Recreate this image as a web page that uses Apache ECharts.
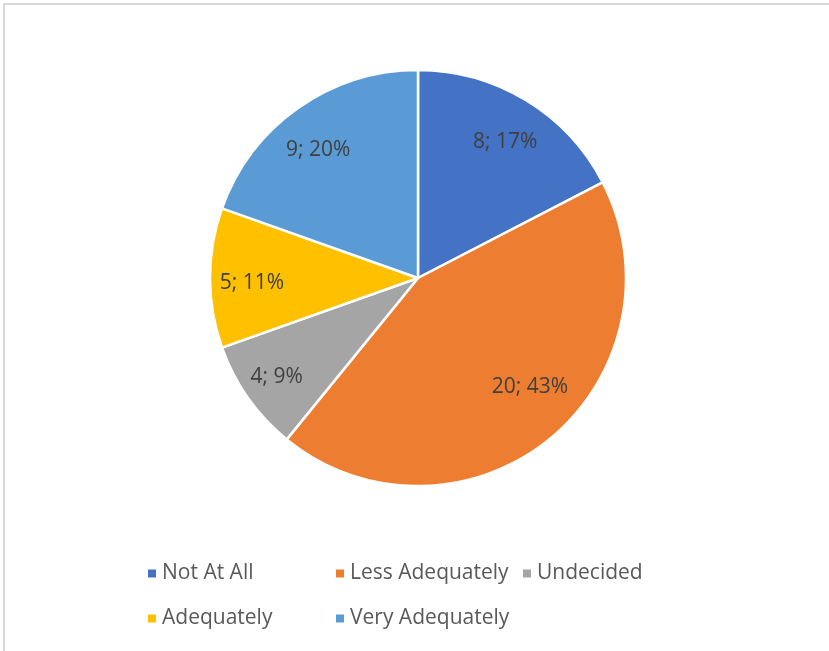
<!DOCTYPE html>
<html>
<head>
<meta charset="utf-8">
<script src="https://cdn.jsdelivr.net/npm/echarts@6/dist/echarts.min.js"></script>
<style>
  html, body { margin: 0; padding: 0; background: #ffffff; }
  #chart { width: 829px; height: 651px; }
</style>
</head>
<body>
<div id="chart"></div>
<script>
// Responses per category
const categories = ['Not At All', 'Less Adequately', 'Undecided', 'Adequately', 'Very Adequately'];
const counts = [8, 20, 4, 5, 9];
const colors = ['#4472C4', '#ED7D31', '#A5A5A5', '#FFC000', '#5B9BD5'];
// small nudges for the value labels (px)
const labelShift = [[0, 8], [6, -21], [-4, 2], [2, 5], [-3, 9]];

const pieData = categories.map((name, i) => ({ name: name, value: counts[i], itemStyle: { color: colors[i] } }));
const labelData = categories.map((name, i) => ({ name: name, value: counts[i], label: { offset: labelShift[i] } }));

const FONT = '"Open Sans", "Liberation Sans", sans-serif';
const center = [418, 278];

const legendBase = {
  orient: 'vertical',
  icon: 'rect',
  itemWidth: 10,
  itemHeight: 10,
  itemGap: 24,
  padding: 0,
  selectedMode: false,
  textStyle: { color: '#595959', fontSize: 21, fontFamily: FONT, lineHeight: 20 }
};

const chart = echarts.init(document.getElementById('chart'));
chart.setOption({
  backgroundColor: '#ffffff',
  animation: false,
  graphic: [{
    type: 'rect',
    shape: { x: 4, y: 4, width: 900, height: 800 },
    style: { fill: 'none', stroke: '#d9d9d9', lineWidth: 2 },
    silent: true
  }],
  legend: [
    Object.assign({}, legendBase, { left: 146, top: 563, data: ['Not At All', 'Adequately'] }),
    Object.assign({}, legendBase, { left: 334, top: 563, data: ['Less Adequately', 'Very Adequately'] }),
    Object.assign({}, legendBase, { left: 521, top: 563, data: ['Undecided'] })
  ],
  series: [
    {
      type: 'pie',
      center: center,
      radius: [0, 208],
      startAngle: 90,
      clockwise: true,
      data: pieData,
      label: { show: false },
      labelLine: { show: false },
      itemStyle: { borderColor: '#ffffff', borderWidth: 2.5 },
      emphasis: { disabled: true }
    },
    {
      // transparent ring used only to place the value labels further out
      type: 'pie',
      center: center,
      radius: [110, 220],
      startAngle: 90,
      clockwise: true,
      silent: true,
      data: labelData,
      itemStyle: { color: 'rgba(0,0,0,0)', borderWidth: 0 },
      label: {
        show: true,
        position: 'inside',
        color: '#404040',
        fontSize: 21,
        fontFamily: FONT,
        formatter: p => p.value + '; ' + Math.round(p.percent) + '%'
      },
      labelLine: { show: false },
      emphasis: { disabled: true }
    }
  ]
});
</script>
</body>
</html>
